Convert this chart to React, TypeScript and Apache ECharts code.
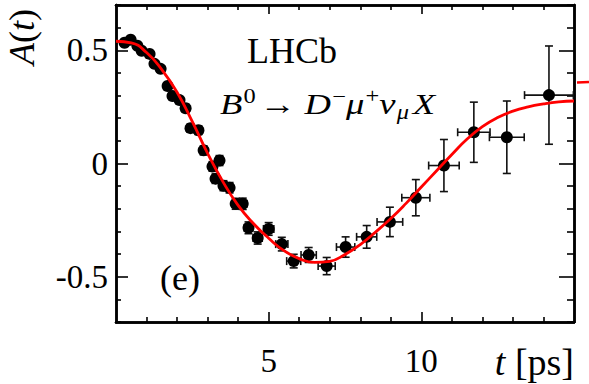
import React, { useEffect, useRef } from "react";
import * as echarts from "echarts";

// Measured points: decay time t [ps], asymmetry A(t), and their errors
const tValues = [0.28, 0.48, 0.70, 0.84, 1.10, 1.26, 1.46, 1.69, 1.85, 2.08, 2.28, 2.44, 2.70, 2.87, 3.16, 3.26, 3.39, 3.52, 3.72, 3.92, 4.15, 4.34, 4.64, 5.00, 5.43, 5.82, 6.31, 6.90, 7.52, 8.21, 8.97, 9.82, 10.74, 11.72, 12.80, 14.18];
const aValues = [0.533, 0.547, 0.520, 0.498, 0.484, 0.440, 0.418, 0.342, 0.298, 0.280, 0.244, 0.156, 0.147, 0.058, -0.013, -0.067, 0.013, -0.098, -0.107, -0.178, -0.178, -0.284, -0.329, -0.289, -0.356, -0.431, -0.404, -0.453, -0.369, -0.324, -0.258, -0.151, -0.009, 0.138, 0.116, 0.302];
const tErrors = [0.08, 0.08, 0.08, 0.08, 0.1, 0.1, 0.1, 0.1, 0.1, 0.1, 0.1, 0.1, 0.1, 0.1, 0.1, 0.1, 0.12, 0.12, 0.12, 0.12, 0.14, 0.14, 0.15, 0.17, 0.2, 0.23, 0.25, 0.28, 0.3, 0.33, 0.42, 0.46, 0.5, 0.53, 0.57, 0.8];
const aErrors = [0.012, 0.012, 0.012, 0.012, 0.013, 0.013, 0.014, 0.015, 0.015, 0.016, 0.017, 0.018, 0.019, 0.02, 0.021, 0.021, 0.022, 0.022, 0.023, 0.024, 0.025, 0.026, 0.027, 0.028, 0.03, 0.03, 0.033, 0.038, 0.045, 0.05, 0.065, 0.08, 0.115, 0.133, 0.16, 0.217];

// Fit curve
const fitT = [0, 0.5, 1, 1.5, 2, 2.5, 3, 3.5, 4, 4.5, 5, 5.5, 6, 6.5, 7, 7.5, 8, 8.5, 9, 9.5, 10, 10.5, 11, 11.5, 12, 12.5, 13, 13.5, 14, 14.5, 15];
const fitA = [0.54, 0.533, 0.49, 0.415, 0.315, 0.185, 0.045, -0.08, -0.185, -0.265, -0.33, -0.385, -0.42, -0.437, -0.432, -0.402, -0.358, -0.303, -0.243, -0.176, -0.104, -0.032, 0.04, 0.108, 0.163, 0.203, 0.231, 0.25, 0.263, 0.272, 0.276];

// Axis ranges and ticks
const xMin = 0;
const xMax = 15;
const yMin = -0.7;
const yMax = 0.7;
const xMajorTicks = [5, 10];
const xMinorTicks = [1, 2, 3, 4, 6, 7, 8, 9, 11, 12, 13, 14];
const yMajorTicks = [-0.5, 0, 0.5];
const yMinorTicks = [-0.7, -0.6, -0.4, -0.3, -0.2, -0.1, 0.1, 0.2, 0.3, 0.4, 0.6, 0.7];

const SERIF = "Liberation Serif";

function makeAxis(position: string, min: number, max: number, ticks: number[], len: number, labels: number[] | null, labelMargin: number) {
  return {
    type: "value",
    position,
    min,
    max,
    axisLine: { show: true, onZero: false, lineStyle: { color: "#000", width: 2.5 } },
    axisTick: { show: true, inside: true, length: len, customValues: ticks, lineStyle: { color: "#000", width: 1.6 } },
    axisLabel: labels
      ? {
          show: true,
          customValues: labels,
          margin: labelMargin,
          color: "#000",
          fontFamily: SERIF,
          fontSize: 33,
          formatter: (v: number) => (v === 0 ? "0" : String(v)),
        }
      : { show: false },
    splitLine: { show: false },
    minorTick: { show: false },
  };
}

export default function App() {
  const ref = useRef<HTMLDivElement>(null);
  useEffect(() => {
    const chart = echarts.init(ref.current!, null, { renderer: "svg" });
    const points = tValues.map((t, i) => [t, aValues[i]]);
    const errData = tValues.map((t, i) => [t, aValues[i], tErrors[i], aErrors[i]]);
    const fitData = fitT.map((t, i) => [t, fitA[i]]);

    const option: any = {
      animation: false,
      backgroundColor: "#fff",
      textStyle: { fontFamily: SERIF },
      grid: { left: 116, right: 15, top: 5, bottom: 62, containLabel: false, outerBoundsMode: "none" },
      xAxis: [
        makeAxis("bottom", xMin, xMax, xMinorTicks, 5, null, 0),
        makeAxis("bottom", xMin, xMax, xMajorTicks, 10, xMajorTicks, 22),
        makeAxis("top", xMin, xMax, xMinorTicks, 5, null, 0),
        makeAxis("top", xMin, xMax, xMajorTicks, 9, null, 0),
      ],
      yAxis: [
        makeAxis("left", yMin, yMax, yMinorTicks, 5, null, 0),
        makeAxis("left", yMin, yMax, yMajorTicks, 12, yMajorTicks, 8),
        makeAxis("right", yMin, yMax, yMinorTicks, 7, null, 0),
        makeAxis("right", yMin, yMax, yMajorTicks, 15, null, 0),
      ],
      series: [
        {
          type: "custom",
          xAxisIndex: 0,
          yAxisIndex: 0,
          data: errData,
          encode: { x: 0, y: 1 },
          z: 2,
          renderItem: (params: any, api: any) => {
            const t = api.value(0);
            const a = api.value(1);
            const dt = api.value(2);
            const da = api.value(3);
            const top = api.coord([t, a + da]);
            const bot = api.coord([t, a - da]);
            const lft = api.coord([t - dt, a]);
            const rgt = api.coord([t + dt, a]);
            const cap = 4;
            const style = { stroke: "#111", lineWidth: 1.6, fill: null };
            return {
              type: "group",
              children: [
                { type: "line", shape: { x1: top[0], y1: top[1], x2: bot[0], y2: bot[1] }, style },
                { type: "line", shape: { x1: top[0] - cap, y1: top[1], x2: top[0] + cap, y2: top[1] }, style },
                { type: "line", shape: { x1: bot[0] - cap, y1: bot[1], x2: bot[0] + cap, y2: bot[1] }, style },
                { type: "line", shape: { x1: lft[0], y1: lft[1], x2: rgt[0], y2: rgt[1] }, style },
                { type: "line", shape: { x1: lft[0], y1: lft[1] - cap, x2: lft[0], y2: lft[1] + cap }, style },
                { type: "line", shape: { x1: rgt[0], y1: rgt[1] - cap, x2: rgt[0], y2: rgt[1] + cap }, style },
              ],
            };
          },
        },
        {
          type: "scatter",
          xAxisIndex: 0,
          yAxisIndex: 0,
          data: points,
          symbol: "circle",
          symbolSize: 12,
          itemStyle: { color: "#000", opacity: 1 },
          z: 3,
        },
        {
          type: "line",
          xAxisIndex: 0,
          yAxisIndex: 0,
          data: fitData,
          smooth: 0.5,
          showSymbol: false,
          symbol: "none",
          lineStyle: { color: "#ff0000", width: 2.8 },
          z: 4,
        },
      ],
      graphic: [
        {
          type: "text",
          x: 247,
          y: 51,
          style: {
            text: "LHCb",
            fill: "#000",
            fontSize: 36,
            fontFamily: SERIF,
            align: "left",
            verticalAlign: "middle",
            textAlign: "left",
            textVerticalAlign: "middle",
          },
        },
        {
          type: "text",
          x: 220,
          y: 104,
          scaleX: 1.22,
          style: {
            text: "{i|B}{sup|0}{n|→}{i|D}{sup|−}{i|μ}{sup|+}{i|ν}{sub|μ}{x|X}",
            fill: "#000",
            fontSize: 30,
            fontFamily: SERIF,
            align: "left",
            verticalAlign: "middle",
            textAlign: "left",
            textVerticalAlign: "middle",
            rich: {
              i: { fontStyle: "italic", fontSize: 30, fontFamily: SERIF, lineHeight: 36, verticalAlign: "middle", fill: "#000", padding: [0, 1, 0, 0] },
              x: { fontStyle: "italic", fontSize: 30, fontFamily: SERIF, lineHeight: 36, verticalAlign: "middle", fill: "#000", padding: [0, 0, 0, 3] },
              n: { fontSize: 30, fontFamily: SERIF, lineHeight: 36, verticalAlign: "middle", fill: "#000", padding: [0, 7, 0, 3] },
              sup: { fontSize: 20, fontFamily: SERIF, lineHeight: 26, verticalAlign: "top", fill: "#000" },
              sub: { fontStyle: "italic", fontSize: 20, fontFamily: SERIF, lineHeight: 20, verticalAlign: "bottom", fill: "#000" },
            },
          },
        },
        {
          type: "text",
          x: 160,
          y: 278,
          style: {
            text: "(e)",
            fill: "#000",
            fontSize: 36,
            fontFamily: SERIF,
            align: "left",
            verticalAlign: "middle",
            textAlign: "left",
            textVerticalAlign: "middle",
          },
        },
        {
          type: "text",
          x: 22,
          y: 37,
          rotation: Math.PI / 2,
          style: {
            text: "{i|A}{n|(}{i|t}{n|)}",
            fill: "#000",
            fontSize: 36,
            fontFamily: SERIF,
            align: "center",
            verticalAlign: "middle",
            textAlign: "center",
            textVerticalAlign: "middle",
            rich: {
              i: { fontStyle: "italic", fontSize: 36, fontFamily: SERIF, fill: "#000" },
              n: { fontSize: 36, fontFamily: SERIF, fill: "#000" },
            },
          },
        },
        {
          type: "text",
          x: 574,
          y: 362,
          style: {
            text: "{i|t}{n| [ps]}",
            fill: "#000",
            fontSize: 38,
            fontFamily: SERIF,
            align: "right",
            verticalAlign: "middle",
            textAlign: "right",
            textVerticalAlign: "middle",
            rich: {
              i: { fontStyle: "italic", fontSize: 38, fontFamily: SERIF, fill: "#000" },
              n: { fontSize: 38, fontFamily: SERIF, fill: "#000" },
            },
          },
        },
        {
          type: "line",
          shape: { x1: 577, y1: 82.5, x2: 589, y2: 82 },
          style: { stroke: "#ff0000", lineWidth: 2.5 },
        },
      ],
    };
    chart.setOption(option);
    return () => chart.dispose();
  }, []);
  return <div ref={ref} style={{ position: "absolute", left: 0, top: 0, width: 589, height: 384 }} />;
}
